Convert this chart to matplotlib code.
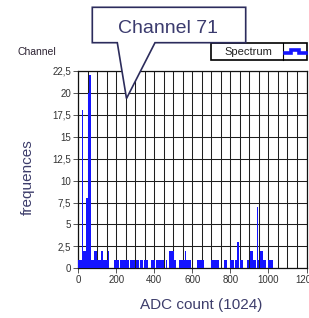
import matplotlib
matplotlib.use("Agg")
import matplotlib.pyplot as plt
from matplotlib.patches import Polygon, Rectangle
from matplotlib.lines import Line2D
from matplotlib.ticker import MultipleLocator, FuncFormatter

plt.rcParams['font.family'] = ['Liberation Sans', 'DejaVu Sans']

# --------------------------------------------------------------
# Dane: przedziały kanałów (start, stop) i liczba zliczeń
# --------------------------------------------------------------
run_start = [0, 22, 26, 40, 51, 56, 66, 80, 96, 118, 128, 150, 153, 156, 160,
             186, 218, 270, 302, 325, 346, 381, 407, 437, 451, 454, 461,
             476, 504, 512, 532, 556, 562, 565, 583, 625, 700,
             765, 798, 825, 837, 848, 886, 903, 921, 940, 943,
             953, 970, 1000, 1015, 1021]
run_stop = [22, 26, 40, 51, 56, 66, 80, 96, 118, 128, 149, 153, 156, 160, 163,
            214, 266, 300, 318, 342, 367, 402, 433, 449, 453, 458, 465,
            504, 512, 515, 556, 562, 565, 580, 592, 660, 742,
            784, 819, 836, 847, 868, 900, 921, 932, 943, 950,
            970, 988, 1013, 1018, 1024]
run_count = [1, 18, 2, 8, 20, 22, 1, 2, 1, 2, 1, 2, 1, 2, 1,
             1, 1, 1, 1, 1, 1, 1, 1, 1, 3, 1, 1,
             2, 1, 2, 1, 1, 2, 1, 1, 1, 1,
             1, 1, 1, 3, 1, 1, 2, 1, 7, 1,
             2, 1, 1, 1, 1]

y_ticks = [0, 2.5, 5, 7.5, 10, 12.5, 15, 17.5, 20, 22.5]
x_ticks = [0, 200, 400, 600, 800, 1000, 1200]

W, H = 309, 318
fig = plt.figure(figsize=(W / 100, H / 100), dpi=100)


def fx(px):
    return px / W


def fy(py):
    return 1 - py / H


ax = fig.add_axes([fx(78.3), fy(268.3), fx(306.5) - fx(78.3), fy(71) - fy(268.3)])

widths = [b - a for a, b in zip(run_start, run_stop)]
ax.bar(run_start, run_count, width=widths, align='edge', color='#1414ff',
       linewidth=0, zorder=3)

ax.set_xlim(0, 1200)
ax.set_ylim(0, 22.5)
ax.xaxis.set_major_locator(MultipleLocator(200))
ax.xaxis.set_minor_locator(MultipleLocator(50))
ax.set_yticks(y_ticks)
ax.yaxis.set_major_formatter(FuncFormatter(lambda v, p: ('%g' % v).replace('.', ',')))
ax.grid(which='both', axis='x', color='#1e1e1e', linewidth=0.75, zorder=1)
ax.grid(which='major', axis='y', color='#1e1e1e', linewidth=0.75, zorder=1)
ax.set_axisbelow(True)
ax.tick_params(axis='x', which='minor', length=0)
ax.tick_params(axis='both', which='major', direction='out', length=3.5, width=0.7,
               color='#555555', labelsize=7, labelcolor='#333333', pad=1.5)
for s in ax.spines.values():
    s.set_color('#111111')
    s.set_linewidth(0.9)

# Opisy osi
fig.text(fx(201.5), fy(305), 'ADC count (1024)', ha='center', va='center',
         fontsize=11, color='#3d3d6b')
fig.text(fx(28), fy(177.5), 'frequences', ha='center', va='center', rotation=90,
         fontsize=11, color='#3d3d6b')
fig.text(fx(17), fy(52), 'Channel', ha='left', va='center', fontsize=7.5,
         color='#2a2030')

# Legenda "Spectrum"
fig.add_artist(Rectangle((fx(210.7), fy(60.3)), fx(307.3) - fx(210.7), fy(42.7) - fy(60.3),
                         transform=fig.transFigure, facecolor='white', edgecolor='black',
                         linewidth=1.2))
fig.add_artist(Line2D([fx(282.7), fx(282.7)], [fy(43), fy(60)], transform=fig.transFigure,
                      color='black', linewidth=0.8))
fig.text(fx(248), fy(51.7), 'Spectrum', ha='center', va='center', fontsize=8, color='#222222')
fig.add_artist(Line2D([fx(285), fx(291), fx(291), fx(299), fx(299), fx(306)],
                      [fy(53), fy(53), fy(49.5), fy(49.5), fy(53), fy(53)],
                      transform=fig.transFigure, color='#1414ff', linewidth=2.6,
                      solid_joinstyle='miter'))

# Dymek "Channel 71"
callout = [(92.3, 7.3), (245.7, 7.3), (245.7, 42.7), (155, 42.7), (126.5, 98.5),
           (117.3, 42.7), (92.3, 42.7)]
fig.add_artist(Polygon([(fx(a), fy(b)) for a, b in callout], closed=True,
                       transform=fig.transFigure, facecolor='white', edgecolor='#2c2c5c',
                       linewidth=1.2, zorder=5))
fig.text(fx(168), fy(33), 'Channel 71', ha='center', va='baseline', fontsize=14,
         color='#3b3b6e', zorder=6)

fig.savefig('out.png', dpi=100)
